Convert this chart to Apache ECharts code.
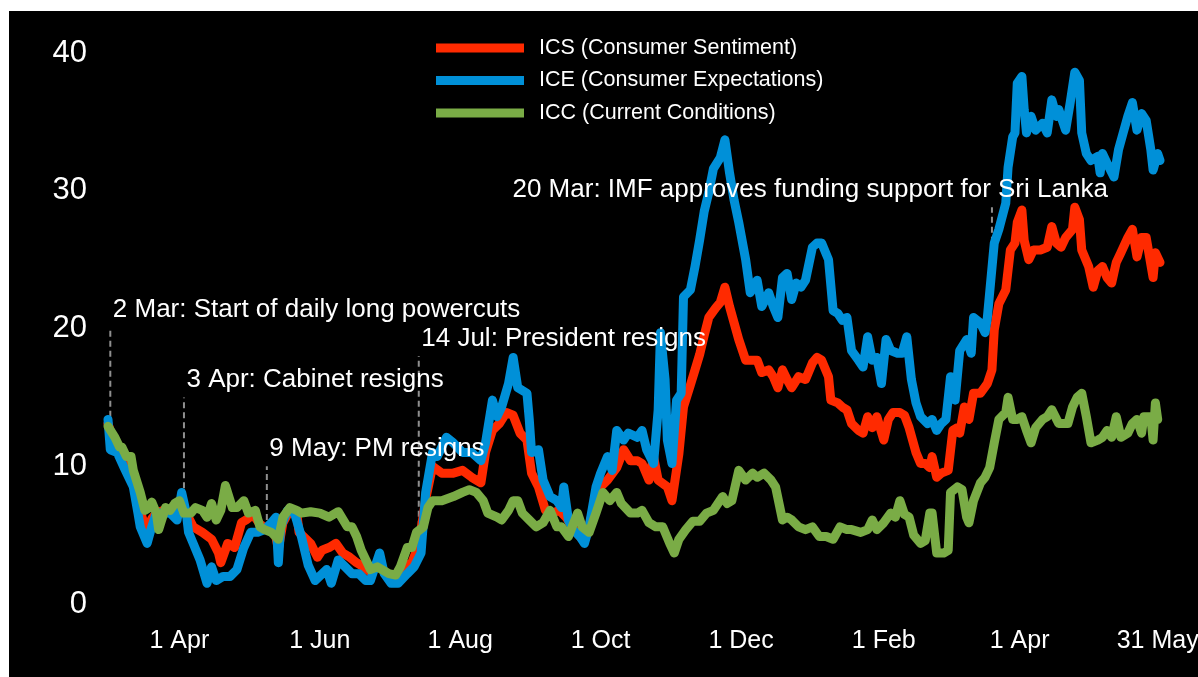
<!DOCTYPE html>
<html><head><meta charset="utf-8">
<script src="https://cdn.jsdelivr.net/npm/echarts@6/dist/echarts.min.js"></script>
<style>
html,body{margin:0;padding:0;background:#fff;width:1198px;height:677px;overflow:hidden}
#chart{position:absolute;left:9px;top:11px;width:1189px;height:666px;background:#000}
</style></head><body><div id="chart"></div>
<script>
// ---------------- DATA ----------------
const seriesNames = ['ICS (Consumer Sentiment)', 'ICE (Consumer Expectations)', 'ICC (Current Conditions)'];

const tickDates = ['2022-04-01','2022-06-01','2022-08-01','2022-10-01','2022-12-01','2023-02-01','2023-04-01','2023-05-31'];
const tickLabels = ['1 Apr','1 Jun','1 Aug','1 Oct','1 Dec','1 Feb','1 Apr','31 May'];
const yTicks = [0, 10, 20, 30, 40];

const iceDates = [
'2022-03-01','2022-03-02','2022-03-05','2022-03-08','2022-03-10','2022-03-12','2022-03-14','2022-03-15','2022-03-18','2022-03-20',
'2022-03-22','2022-03-25','2022-03-28','2022-03-31','2022-04-02','2022-04-04','2022-04-05','2022-04-07','2022-04-10','2022-04-13',
'2022-04-15','2022-04-17','2022-04-20','2022-04-23','2022-04-26','2022-04-29','2022-05-02','2022-05-05','2022-05-08','2022-05-11',
'2022-05-13','2022-05-14','2022-05-15','2022-05-18','2022-05-21','2022-05-24','2022-05-27','2022-05-30','2022-06-04','2022-06-06',
'2022-06-09','2022-06-12','2022-06-15','2022-06-18','2022-06-21','2022-06-23','2022-06-27','2022-06-29','2022-07-02','2022-07-05',
'2022-07-09','2022-07-12','2022-07-15','2022-07-17','2022-07-20','2022-07-22','2022-07-26','2022-07-29','2022-08-02','2022-08-06',
'2022-08-10','2022-08-12','2022-08-15','2022-08-17','2022-08-19','2022-08-22','2022-08-24','2022-08-26','2022-08-30','2022-08-31',
'2022-09-01','2022-09-04','2022-09-06','2022-09-09','2022-09-12','2022-09-14','2022-09-15','2022-09-17','2022-09-19','2022-09-22',
'2022-09-24','2022-09-26','2022-09-29','2022-10-01','2022-10-04','2022-10-06','2022-10-08','2022-10-11','2022-10-13','2022-10-17',
'2022-10-19','2022-10-21','2022-10-24','2022-10-26','2022-10-27','2022-10-29','2022-10-30','2022-11-01','2022-11-03','2022-11-05',
'2022-11-06','2022-11-09','2022-11-11','2022-11-13','2022-11-15','2022-11-17','2022-11-19','2022-11-22','2022-11-24','2022-11-26',
'2022-11-28','2022-11-30','2022-12-03','2022-12-05','2022-12-08','2022-12-10','2022-12-13','2022-12-15','2022-12-17','2022-12-19',
'2022-12-21','2022-12-23','2022-12-25','2022-12-27','2022-12-29','2023-01-01','2023-01-03','2023-01-05','2023-01-08','2023-01-10',
'2023-01-12','2023-01-14','2023-01-16','2023-01-18','2023-01-21','2023-01-23','2023-01-25','2023-01-27','2023-01-29','2023-01-31',
'2023-02-02','2023-02-04','2023-02-07','2023-02-09','2023-02-11','2023-02-13','2023-02-15','2023-02-17','2023-02-20','2023-02-22',
'2023-02-24','2023-02-26','2023-02-28','2023-03-02','2023-03-04','2023-03-06','2023-03-09','2023-03-11','2023-03-12','2023-03-15',
'2023-03-17','2023-03-18','2023-03-21','2023-03-23','2023-03-26','2023-03-27','2023-03-29','2023-03-30','2023-03-31','2023-04-02',
'2023-04-03','2023-04-04','2023-04-06','2023-04-08','2023-04-11','2023-04-13','2023-04-15','2023-04-17','2023-04-18','2023-04-21',
'2023-04-23','2023-04-25','2023-04-27','2023-04-28','2023-04-30','2023-05-02','2023-05-05','2023-05-06','2023-05-07','2023-05-09',
'2023-05-12','2023-05-14','2023-05-16','2023-05-18','2023-05-20','2023-05-22','2023-05-24','2023-05-26','2023-05-28',
'2023-05-29','2023-05-31','2023-06-01'
];
const iceValues = [
13.4,11.2,11.0,9.9,9.2,8.5,6.6,5.6,4.4,5.6,
6.6,6.6,6.6,6.1,8.1,6.6,5.2,4.4,3.2,1.5,
2.7,1.7,2.0,2.0,2.5,4.1,5.2,5.2,5.4,5.9,
6.3,3.0,5.6,6.8,6.6,4.9,2.8,1.7,2.5,1.5,
3.2,2.7,2.2,2.2,1.7,1.7,3.7,2.2,1.5,1.5,
2.2,2.7,3.7,8.1,11.0,10.7,12.1,11.7,11.0,11.0,
10.4,11.7,14.8,13.6,14.3,16.0,17.9,15.7,15.3,13.4,
11.0,11.2,9.0,7.8,7.5,7.0,8.5,6.1,5.4,4.9,
4.4,5.6,8.5,9.5,10.7,9.7,12.6,11.9,12.4,12.1,
12.6,11.2,10.2,14.1,19.7,16.3,11.9,10.2,14.8,15.3,
22.3,22.8,24.5,26.4,28.5,29.9,31.6,32.4,33.7,31.3,
29.3,27.7,25.0,22.6,23.5,21.6,22.6,21.6,20.8,23.7,
24.0,22.1,23.3,23.0,23.5,25.9,26.2,26.2,25.0,21.3,
21.1,20.6,20.8,18.4,17.7,17.2,19.4,17.7,17.9,16.0,
19.2,18.4,18.2,18.2,19.4,16.3,14.6,13.6,13.1,13.4,
12.6,13.1,13.4,16.5,14.8,18.4,19.2,18.2,20.8,20.4,
19.7,20.8,26.2,27.2,29.1,31.7,33.9,34.2,37.8,38.3,
35.9,34.2,35.4,34.4,34.9,34.2,36.6,35.4,35.9,34.4,
36.4,38.6,38.0,34.2,32.7,32.2,32.5,31.3,32.7,32.0,
31.0,33.0,34.2,35.4,36.4,34.4,35.6,35.1,33.0,
31.5,32.7,32.2
];

const icsDates = [
'2022-03-01','2022-03-04','2022-03-07','2022-03-10','2022-03-12','2022-03-14','2022-03-16','2022-03-18','2022-03-20','2022-03-22',
'2022-03-25','2022-03-28','2022-03-31','2022-04-02','2022-04-04','2022-04-07','2022-04-11','2022-04-15','2022-04-18','2022-04-19',
'2022-04-22','2022-04-25','2022-04-28','2022-04-30','2022-05-03','2022-05-06','2022-05-09','2022-05-12','2022-05-14','2022-05-16',
'2022-05-19','2022-05-22','2022-05-23','2022-05-28','2022-05-31','2022-06-02','2022-06-05','2022-06-08','2022-06-11','2022-06-14',
'2022-06-17','2022-06-20','2022-06-23','2022-06-26','2022-06-29','2022-07-02','2022-07-05','2022-07-08','2022-07-11','2022-07-14',
'2022-07-17','2022-07-20','2022-07-24','2022-07-29','2022-08-02','2022-08-06','2022-08-10','2022-08-12','2022-08-15','2022-08-18',
'2022-08-21','2022-08-24','2022-08-27','2022-08-30','2022-09-01','2022-09-04','2022-09-07','2022-09-10','2022-09-13','2022-09-16',
'2022-09-19','2022-09-22','2022-09-25','2022-09-28','2022-10-01','2022-10-04','2022-10-08','2022-10-11','2022-10-14','2022-10-17',
'2022-10-19','2022-10-22','2022-10-24','2022-10-26','2022-10-30','2022-11-01','2022-11-04','2022-11-06','2022-11-09','2022-11-11',
'2022-11-13','2022-11-15','2022-11-17','2022-11-20','2022-11-22','2022-11-24','2022-11-26','2022-11-28','2022-11-30','2022-12-03',
'2022-12-06','2022-12-08','2022-12-10','2022-12-13','2022-12-15','2022-12-17','2022-12-19','2022-12-21','2022-12-23','2022-12-26',
'2022-12-29','2023-01-01','2023-01-03','2023-01-05','2023-01-08','2023-01-09','2023-01-12','2023-01-14','2023-01-16','2023-01-18',
'2023-01-21','2023-01-23','2023-01-25','2023-01-27','2023-01-29','2023-02-01','2023-02-03','2023-02-05','2023-02-08','2023-02-10',
'2023-02-12','2023-02-15','2023-02-17','2023-02-19','2023-02-21','2023-02-22','2023-02-24','2023-02-26','2023-03-01','2023-03-03',
'2023-03-05','2023-03-06','2023-03-08','2023-03-10','2023-03-12','2023-03-15','2023-03-18','2023-03-20','2023-03-21','2023-03-23',
'2023-03-26','2023-03-28','2023-03-30','2023-03-31','2023-04-02','2023-04-03','2023-04-05','2023-04-07','2023-04-10','2023-04-13',
'2023-04-15','2023-04-17','2023-04-19','2023-04-21','2023-04-24','2023-04-25','2023-04-27','2023-04-28','2023-05-01','2023-05-03',
'2023-05-05','2023-05-07','2023-05-09','2023-05-11','2023-05-13','2023-05-15','2023-05-18','2023-05-20','2023-05-22','2023-05-24',
'2023-05-26','2023-05-29','2023-05-30','2023-06-01'
];
const icsValues = [
13.1,11.5,10.5,9.6,8.9,7.3,6.2,5.3,6.2,6.6,
6.8,6.7,6.5,7.5,6.6,5.6,5.2,4.7,3.7,3.0,
4.4,4.1,5.9,6.1,6.5,5.8,5.4,5.6,4.0,5.9,
6.8,6.6,5.2,4.4,3.4,3.9,4.1,4.4,3.7,3.4,
3.0,2.7,2.3,2.9,2.4,1.9,1.9,2.7,3.0,4.3,
7.6,10.0,9.5,9.5,9.7,9.2,8.8,11.0,12.6,13.1,
13.9,13.7,12.4,11.9,9.5,8.5,6.8,6.6,6.8,6.3,
5.5,4.9,5.0,7.0,8.5,9.0,9.9,11.2,10.4,10.4,
10.2,9.0,10.7,9.0,8.5,7.5,10.9,14.3,15.9,17.0,
18.1,19.5,20.8,21.5,21.9,23.0,21.6,20.4,19.2,17.7,
17.7,17.7,16.8,17.0,16.5,15.7,17.0,16.3,15.7,16.5,
16.3,17.5,17.9,17.7,16.5,14.8,14.6,14.3,14.1,13.1,
12.6,12.4,13.6,12.8,13.6,11.9,13.4,13.9,13.9,13.7,
12.8,11.0,10.2,10.2,9.9,10.7,9.2,9.5,9.7,12.6,
12.8,12.4,14.3,13.4,15.3,15.3,16.0,17.0,19.9,21.8,
22.8,25.7,26.2,27.7,28.6,26.4,25.0,25.7,25.7,25.9,
27.4,26.2,25.9,26.6,27.2,28.8,27.9,25.7,24.5,23.0,
24.2,24.5,23.7,23.3,24.8,25.5,26.6,27.2,25.2,26.6,
26.6,23.7,25.5,24.8
];

const iccDates = [
'2022-03-01','2022-03-04','2022-03-06','2022-03-07','2022-03-09','2022-03-11','2022-03-12','2022-03-15','2022-03-17','2022-03-19',
'2022-03-20','2022-03-22','2022-03-23','2022-03-26','2022-03-28','2022-03-30','2022-04-01','2022-04-03','2022-04-06','2022-04-08',
'2022-04-11','2022-04-13','2022-04-15','2022-04-17','2022-04-19','2022-04-21','2022-04-24','2022-04-26','2022-04-29','2022-05-01',
'2022-05-04','2022-05-06','2022-05-08','2022-05-11','2022-05-14','2022-05-16','2022-05-19','2022-05-22','2022-05-24','2022-05-28',
'2022-06-01','2022-06-05','2022-06-09','2022-06-13','2022-06-15','2022-06-17','2022-06-19','2022-06-23','2022-06-26','2022-06-28',
'2022-07-01','2022-07-04','2022-07-06','2022-07-09','2022-07-11','2022-07-13','2022-07-16','2022-07-18','2022-07-20','2022-07-24',
'2022-07-29','2022-08-02','2022-08-05','2022-08-08','2022-08-11','2022-08-13','2022-08-17','2022-08-19','2022-08-22','2022-08-24',
'2022-08-26','2022-08-28','2022-08-31','2022-09-03','2022-09-06','2022-09-09','2022-09-12','2022-09-14','2022-09-17','2022-09-21',
'2022-09-23','2022-09-26','2022-09-29','2022-10-02','2022-10-05','2022-10-08','2022-10-10','2022-10-14','2022-10-17','2022-10-19',
'2022-10-22','2022-10-25','2022-10-28','2022-10-31','2022-11-02','2022-11-04','2022-11-07','2022-11-10','2022-11-13','2022-11-16',
'2022-11-19','2022-11-23','2022-11-25','2022-11-27','2022-11-30','2022-12-03','2022-12-06','2022-12-08','2022-12-11','2022-12-14',
'2022-12-16','2022-12-19','2022-12-21','2022-12-23','2022-12-26','2022-12-29','2023-01-01','2023-01-04','2023-01-07','2023-01-10',
'2023-01-13','2023-01-16','2023-01-18','2023-01-22','2023-01-25','2023-01-27','2023-01-29','2023-02-01','2023-02-04','2023-02-06',
'2023-02-08','2023-02-10','2023-02-12','2023-02-14','2023-02-17','2023-02-19','2023-02-21','2023-02-22','2023-02-24','2023-02-27',
'2023-03-01','2023-03-02','2023-03-05','2023-03-07','2023-03-09','2023-03-10','2023-03-12','2023-03-15','2023-03-17','2023-03-19',
'2023-03-21','2023-03-23','2023-03-26','2023-03-27','2023-03-29','2023-03-31','2023-04-02','2023-04-04','2023-04-06','2023-04-08',
'2023-04-11','2023-04-13','2023-04-15','2023-04-18','2023-04-20','2023-04-22','2023-04-24','2023-04-26','2023-04-28','2023-04-30',
'2023-05-02','2023-05-05','2023-05-07','2023-05-09','2023-05-11','2023-05-13','2023-05-15','2023-05-18','2023-05-20','2023-05-22',
'2023-05-24','2023-05-25','2023-05-28','2023-05-29','2023-05-30','2023-05-31'
];
const iccValues = [
12.9,12.1,11.4,11.4,10.7,10.7,9.7,8.1,6.8,7.0,
7.4,6.6,5.4,7.0,6.8,7.3,7.5,6.6,6.6,7.0,
6.8,6.3,7.3,6.1,6.8,8.6,7.0,7.0,7.5,6.6,
6.8,5.6,5.4,5.2,4.7,6.3,7.0,6.8,6.6,6.7,
6.6,6.3,6.7,5.6,5.6,4.9,3.9,2.5,2.7,2.5,
2.2,2.1,2.7,4.1,4.1,5.2,5.6,7.0,7.5,7.5,
7.8,8.1,8.3,8.1,7.5,6.6,6.3,6.1,6.8,7.5,
7.5,6.6,6.1,5.6,5.9,6.8,5.6,5.6,4.9,6.6,
5.6,5.2,6.6,8.1,7.5,8.1,7.3,6.6,6.6,6.8,
5.9,5.6,5.6,4.4,3.7,4.7,5.4,6.0,6.0,6.6,
6.8,7.8,7.3,7.5,9.7,9.0,9.5,9.2,9.5,9.0,
8.5,6.1,6.3,6.1,5.6,5.4,5.6,4.9,4.9,4.7,
5.6,5.4,5.4,5.2,5.4,6.1,5.4,5.9,6.6,6.3,
7.5,6.5,6.3,5.0,4.4,4.6,6.6,6.6,3.7,3.7,
3.9,8.1,8.5,8.3,6.3,5.9,7.5,8.8,9.2,9.9,
11.7,13.4,13.9,15.0,13.4,13.4,13.6,12.6,11.7,12.8,
13.4,13.6,14.1,13.1,13.1,13.1,14.3,15.0,15.3,13.6,
11.7,11.9,12.1,12.6,12.1,13.6,12.1,12.4,13.1,13.4,
12.4,13.6,13.6,11.9,14.6,13.4
];

// Event annotations: event date, dashed segment extent (index units), text
const annDates = ['2022-03-02','2022-04-03','2022-05-09','2022-07-14','2023-03-20'];
const annTop = [20.1, 15.0, 10.0, 18.0, 28.8];
const annBottom = [13.6, 8.4, 6.1, 5.6, 25.5];
const annTexts = [
  '2 Mar: Start of daily long powercuts',
  '3 Apr: Cabinet resigns',
  '9 May: PM resigns',
  '14 Jul: President resigns',
  '20 Mar: IMF approves funding support for Sri Lanka'
];

// ---------------- STYLE ----------------
const FONT = "'Liberation Sans', Arial, sans-serif";
const colors = ['#FF2A00', '#0090D8', '#7AAC46'];
const annLabelDx = [3, 3, 3, 3, -479];

const ts = d => +echarts.time.parse(d);
const tickMap = {};
tickDates.forEach((d, i) => { tickMap[ts(d)] = tickLabels[i]; });

const chart = echarts.init(document.getElementById('chart'), null, {renderer: 'canvas'});

const mainSeries = [
  {name: seriesNames[0], dates: icsDates, values: icsValues, color: colors[0]},
  {name: seriesNames[1], dates: iceDates, values: iceValues, color: colors[1]},
  {name: seriesNames[2], dates: iccDates, values: iccValues, color: colors[2]}
].map(s => ({
  name: s.name,
  type: 'line',
  data: s.dates.map((d, i) => [ts(d), s.values[i]]),
  showSymbol: false,
  symbol: 'none',
  itemStyle: {color: s.color, borderWidth: 0},
  lineStyle: {color: s.color, width: 9, join: 'round', cap: 'round'},
  z: 3,
  silent: true
}));

const annLineSeries = annDates.map((d, i) => ({
  name: 'ann' + i,
  type: 'line',
  data: [[ts(d), annBottom[i]], [ts(d), annTop[i]]],
  showSymbol: false,
  symbol: 'none',
  lineStyle: {color: '#8f8f8f', width: 2, type: [6, 4]},
  z: 2,
  silent: true
}));

const annTextSeries = {
  name: 'annText',
  type: 'scatter',
  symbolSize: 1,
  itemStyle: {color: 'rgba(0,0,0,0)', opacity: 1},
  z: 5,
  silent: true,
  data: annDates.map((d, i) => ({
    value: [ts(d), annTop[i]],
    label: {
      show: true,
      formatter: annTexts[i],
      position: [annLabelDx[i], -17],
      align: 'left',
      verticalAlign: 'middle',
      color: '#ffffff',
      opacity: 1,
      fontSize: 26,
      fontFamily: FONT
    }
  }))
};

const option = {
  backgroundColor: '#000000',
  animation: false,
  textStyle: {fontFamily: FONT},
  grid: {left: 99, right: 38, top: 42, bottom: 73, containLabel: false, outerBoundsMode: 'none'},
  legend: {
    data: seriesNames,
    orient: 'vertical',
    left: 422,
    top: 21,
    icon: 'rect',
    itemWidth: 88,
    itemHeight: 9,
    itemGap: 10.5,
    itemStyle: {borderWidth: 0},
    textStyle: {color: '#ffffff', fontSize: 21.5, fontFamily: FONT, lineHeight: 21, padding: [0, 0, 0, 10]},
    selectedMode: false
  },
  xAxis: {
    type: 'value',
    min: ts('2022-03-01'),
    max: ts('2023-06-01'),
    axisLine: {show: false},
    axisTick: {show: false},
    splitLine: {show: false},
    axisLabel: {
      customValues: tickDates.map(ts),
      formatter: v => tickMap[v] || '',
      color: '#ffffff',
      fontSize: 25,
      fontFamily: FONT,
      margin: 25,
      hideOverlap: false
    }
  },
  yAxis: {
    type: 'value',
    min: yTicks[0],
    max: yTicks[yTicks.length - 1],
    interval: yTicks[1] - yTicks[0],
    axisLine: {show: false},
    axisTick: {show: false},
    splitLine: {show: false},
    axisLabel: {color: '#ffffff', fontSize: 31, fontFamily: FONT, margin: 21, padding: [8, 0, 0, 0]}
  },
  series: [...annLineSeries, ...mainSeries, annTextSeries]
};
chart.setOption(option);
</script>
</body></html>
